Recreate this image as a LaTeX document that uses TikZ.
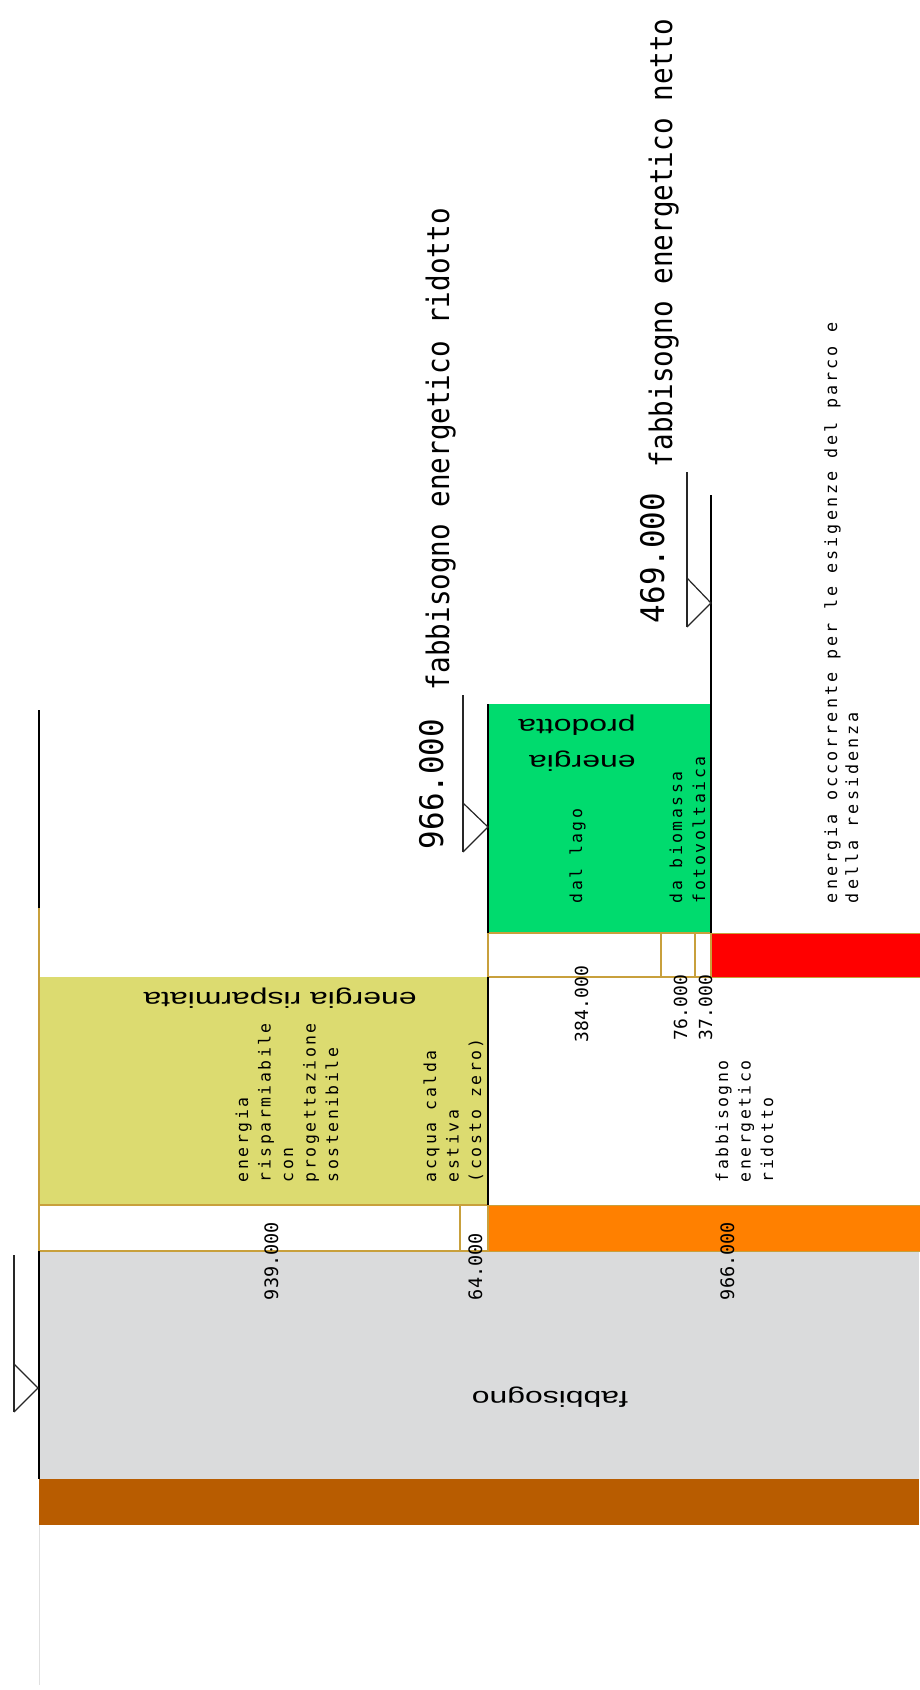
\documentclass[tikz,border=0pt]{standalone}
\usepackage{fontspec}
\newfontfamily\cadbig[FakeStretch=0.89]{DejaVu Sans Mono}
\newfontfamily\cadnumbig[FakeStretch=0.95]{DejaVu Sans Mono}
\newfontfamily\cadnum{DejaVu Sans Mono}
\newfontfamily\cadsmall[LetterSpace=15]{DejaVu Sans Mono}
\newfontfamily\cadmed[LetterSpace=18]{DejaVu Sans Mono}
\newfontfamily\arialw[FakeStretch=1.45]{Liberation Sans}
\definecolor{greyc}{RGB}{218,219,220}
\definecolor{brownc}{RGB}{184,92,0}
\definecolor{yellowc}{RGB}{220,219,112}
\definecolor{greenc}{RGB}{0,219,110}
\definecolor{orangec}{RGB}{255,128,0}
\definecolor{redc}{RGB}{255,0,0}
\definecolor{tanc}{RGB}{200,160,60}
\tikzset{
  blk/.style={line width=2pt, black},
  tanl/.style={line width=1.5pt, tanc},
  mark line/.style={line width=1.2pt, black!85},
  cad/.style={rotate=90, anchor=base west, inner sep=0pt, outer sep=0pt},
  bignum/.style={cad, font=\cadnumbig\fontsize{32.5}{32.5}\selectfont},
  bigtxt/.style={cad, font=\cadbig\fontsize{31}{31}\selectfont},
  medtxt/.style={cad, font=\cadmed\fontsize{16.8}{18}\selectfont},
  smtxt/.style={cad, font=\cadsmall\fontsize{16.5}{18}\selectfont},
  smnum/.style={cad, font=\cadnum\fontsize{18}{18}\selectfont},
  smnumb/.style={cad, font=\cadnum\fontsize{18.5}{18.5}\selectfont},
  updown/.style={rotate=180, anchor=center, inner sep=0pt, font=\arialw\fontsize{22}{36}\selectfont}
}
\begin{document}
\begin{tikzpicture}[x=1pt,y=-1pt]
\useasboundingbox (0,0) rectangle (919,1690);
\fill[white] (0,0) rectangle (919,1690);
% coloured bands
\fill[greyc] (39,1251) rectangle (919,1479);
\fill[brownc] (39,1479) rectangle (919,1525);
\fill[yellowc] (39,977) rectangle (488,1205);
\fill[greenc] (488,704) rectangle (711,933);
\filldraw[fill=orangec, draw=tanc, line width=1pt] (488,1205) rectangle (925,1251);
\filldraw[fill=redc, draw=tanc, line width=1pt] (711,933) rectangle (925,977);
% white boxes with tan borders
\draw[tanl, fill=white] (39,1205) rectangle (488,1251);
\draw[tanl] (460,1205) -- (460,1251);
\draw[tanl, fill=white] (488,933) rectangle (711,977);
\draw[tanl] (661,933) -- (661,977);
\draw[tanl] (695,933) -- (695,977);
\draw[tanl] (39,908) -- (39,1251);
% black level lines
\draw[blk] (39,710) -- (39,908);
\draw[blk] (39,1251) -- (39,1479);
\draw[blk] (488,704) -- (488,933);
\draw[blk] (488,977) -- (488,1205);
\draw[blk] (711,495) -- (711,933);
\draw[line width=1pt, black!12] (39,1525) -- (39,1685);
% level markers
\draw[mark line] (463,695) -- (463,852);
\draw[mark line] (463,803) -- (488,827) -- (463,852);
\draw[mark line] (687,472) -- (687,627);
\draw[mark line] (687,578) -- (711,603) -- (687,627);
\draw[mark line] (14,1255) -- (14,1412);
\draw[mark line] (14,1364) -- (38,1388) -- (14,1412);
% large labels
\node[bignum] (n966) at (443,849) {966.000};
\node[bigtxt] (t966) at (449,690) {fabbisogno energetico ridotto};
\node[bignum] (n469) at (664,623) {469.000};
\node[bigtxt] (t469) at (672,467) {fabbisogno energetico netto};
% medium label
\node[medtxt] (occ1) at (837,903) {energia occorrente per le esigenze del parco e};
\node[medtxt] (occ2) at (858,903) {della residenza};
% green box
\node[smtxt] (lago) at (582,903) {dal lago};
\node[smtxt] (bio) at (682,903) {da biomassa};
\node[smtxt] (foto) at (705,903) {fotovoltaica};
% yellow box
\node[smtxt] (a1) at (248,1182) {energia};
\node[smtxt] (a2) at (270.5,1182) {risparmiabile};
\node[smtxt] (a3) at (293,1182) {con};
\node[smtxt] (a4) at (315.5,1182) {progettazione};
\node[smtxt] (a5) at (338,1182) {sostenibile};
\node[smtxt] (b1) at (436,1182) {acqua calda};
\node[smtxt] (b2) at (458.5,1182) {estiva};
\node[smtxt] (b3) at (481,1182) {(costo zero)};
\node[smtxt] (c1) at (728,1182) {fabbisogno};
\node[smtxt] (c2) at (750.5,1182) {energetico};
\node[smtxt] (c3) at (773,1182) {ridotto};
% numbers
\node[smnum] (v384) at (588,1042) {384.000};
\node[smnum] (v76) at (687,1040) {76.000};
\node[smnum] (v37) at (712,1040) {37.000};
\node[smnumb] (v939) at (278,1300) {939.000};
\node[smnumb] (v64) at (482,1300) {64.000};
\node[smnumb] (v966) at (734,1300) {966.000};
% upside-down titles
\node[updown] (risp) at (280,998) {energia risparmiata};
\node[updown, align=left] (prod) at (577,743) {energia\\prodotta};
\node[updown] (fabb) at (550,1397) {fabbisogno};
\end{tikzpicture}
\end{document}
